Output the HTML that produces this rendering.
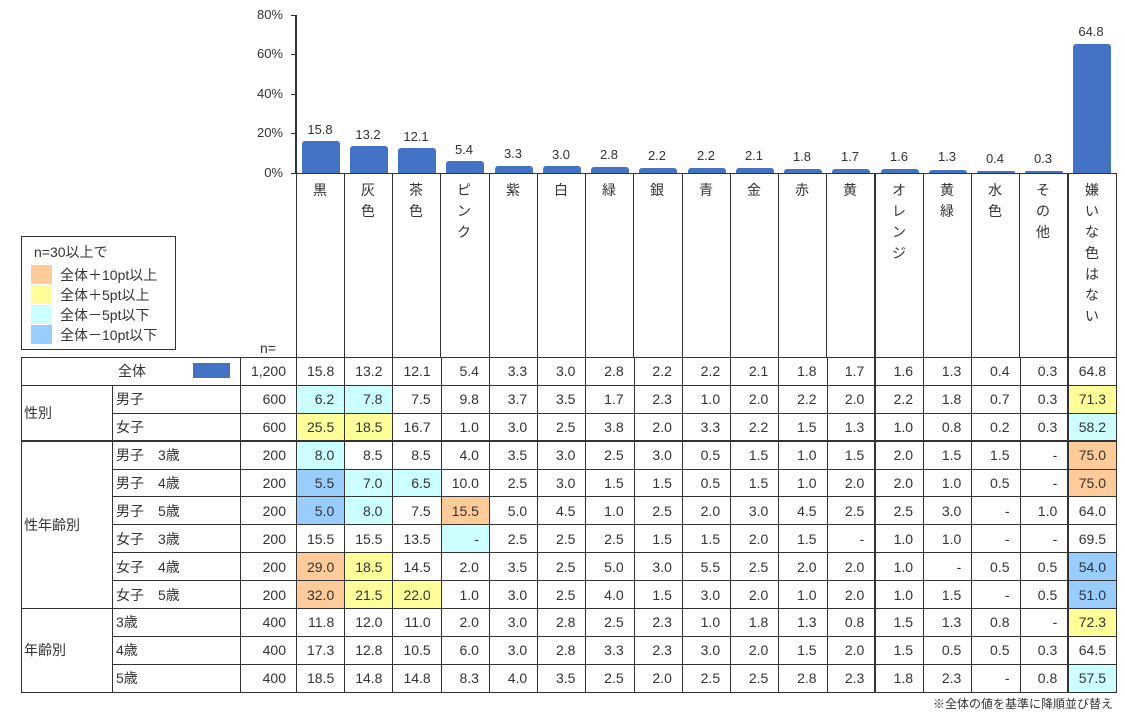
<!DOCTYPE html>
<html><head><meta charset="utf-8">
<style>
*{margin:0;padding:0;box-sizing:border-box}
body{width:1125px;height:718px;background:#fff;position:relative;overflow:hidden;font-family:"Liberation Sans","Noto Sans CJK JP",sans-serif;color:#333;font-size:13px}
.a{position:absolute}
.yl{position:absolute;right:842px;font-size:13px;text-align:right}
.bar{position:absolute;background:#4472C4;border-radius:3px 3px 0 0;width:38px}
.bv{position:absolute;width:48px;text-align:center;font-size:13px}
.vl{position:absolute;top:173px;height:184px;width:1px;background:#333}
.hl{position:absolute;width:48px;text-align:center;font-size:14px;line-height:21px;top:180px}
table{position:absolute;left:21px;top:357px;border-collapse:collapse;table-layout:fixed;width:1096px}
td{border:1px solid #333;height:27.9px;font-size:14px;text-align:right;padding-right:10px;white-space:nowrap}
td.g{text-align:left;padding-left:2px}
td.l{text-align:left;padding-left:3px}
tr.d td.c{border-bottom:1px dashed #999}
tr.t td{border-bottom:2px solid #333}
td.tk{border-left:2px solid #333}
.o{background:#FFCC99}.y{background:#FFFF99}.c1{background:#CCFFFF}.b{background:#99CCFF}
.lg{position:absolute;left:60px;font-size:14px}
</style></head><body>
<div class="a" style="left:295px;top:15px;width:2px;height:159px;background:#333"></div>
<div class="a" style="left:291px;top:15px;width:5px;height:1px;background:#333"></div>
<div class="a" style="left:291px;top:54px;width:5px;height:1px;background:#333"></div>
<div class="a" style="left:291px;top:94px;width:5px;height:1px;background:#333"></div>
<div class="a" style="left:291px;top:133px;width:5px;height:1px;background:#333"></div>
<div class="a" style="left:291px;top:173px;width:826px;height:1px;background:#333"></div>
<div class="yl" style="top:7px">80%</div>
<div class="yl" style="top:46px">60%</div>
<div class="yl" style="top:86px">40%</div>
<div class="yl" style="top:125px">20%</div>
<div class="yl" style="top:165px">0%</div>
<div class="bar" style="left:302px;top:141px;height:32px"></div><div class="bv" style="left:296px;top:122px">15.8</div>
<div class="bar" style="left:350px;top:146px;height:27px"></div><div class="bv" style="left:344px;top:127px">13.2</div>
<div class="bar" style="left:398px;top:148px;height:25px"></div><div class="bv" style="left:392px;top:129px">12.1</div>
<div class="bar" style="left:446px;top:161px;height:12px"></div><div class="bv" style="left:440px;top:142px">5.4</div>
<div class="bar" style="left:495px;top:166px;height:7px"></div><div class="bv" style="left:489px;top:146px">3.3</div>
<div class="bar" style="left:543px;top:166px;height:7px"></div><div class="bv" style="left:537px;top:147px">3.0</div>
<div class="bar" style="left:591px;top:167px;height:6px"></div><div class="bv" style="left:585px;top:147px">2.8</div>
<div class="bar" style="left:639px;top:168px;height:5px"></div><div class="bv" style="left:633px;top:148px">2.2</div>
<div class="bar" style="left:688px;top:168px;height:5px"></div><div class="bv" style="left:682px;top:148px">2.2</div>
<div class="bar" style="left:736px;top:168px;height:5px"></div><div class="bv" style="left:730px;top:148px">2.1</div>
<div class="bar" style="left:784px;top:169px;height:4px"></div><div class="bv" style="left:778px;top:149px">1.8</div>
<div class="bar" style="left:832px;top:169px;height:4px"></div><div class="bv" style="left:826px;top:149px">1.7</div>
<div class="bar" style="left:881px;top:169px;height:4px"></div><div class="bv" style="left:875px;top:149px">1.6</div>
<div class="bar" style="left:929px;top:170px;height:3px"></div><div class="bv" style="left:923px;top:149px">1.3</div>
<div class="bar" style="left:977px;top:171px;height:2px"></div><div class="bv" style="left:971px;top:151px">0.4</div>
<div class="bar" style="left:1025px;top:171px;height:2px"></div><div class="bv" style="left:1019px;top:151px">0.3</div>
<div class="bar" style="left:1073px;top:44px;height:129px"></div><div class="bv" style="left:1067px;top:24px">64.8</div>
<div class="vl" style="left:296px"></div><div class="vl" style="left:344px"></div><div class="vl" style="left:392px"></div><div class="vl" style="left:440px"></div><div class="vl" style="left:489px"></div><div class="vl" style="left:537px"></div><div class="vl" style="left:585px"></div><div class="vl" style="left:633px"></div><div class="vl" style="left:682px"></div><div class="vl" style="left:730px"></div><div class="vl" style="left:778px"></div><div class="vl" style="left:826px"></div><div class="vl" style="left:874px;width:2px"></div><div class="vl" style="left:923px"></div><div class="vl" style="left:971px"></div><div class="vl" style="left:1019px"></div><div class="vl" style="left:1067px;width:2px"></div><div class="vl" style="left:1116px"></div>
<div class="hl" style="left:296px">黒</div>
<div class="hl" style="left:344px">灰<br>色</div>
<div class="hl" style="left:392px">茶<br>色</div>
<div class="hl" style="left:440px">ピ<br>ン<br>ク</div>
<div class="hl" style="left:489px">紫</div>
<div class="hl" style="left:537px">白</div>
<div class="hl" style="left:585px">緑</div>
<div class="hl" style="left:633px">銀</div>
<div class="hl" style="left:682px">青</div>
<div class="hl" style="left:730px">金</div>
<div class="hl" style="left:778px">赤</div>
<div class="hl" style="left:826px">黄</div>
<div class="hl" style="left:875px">オ<br>レ<br>ン<br>ジ</div>
<div class="hl" style="left:923px">黄<br>緑</div>
<div class="hl" style="left:971px">水<br>色</div>
<div class="hl" style="left:1019px">そ<br>の<br>他</div>
<div class="hl" style="left:1068px">嫌<br>い<br>な<br>色<br>は<br>な<br>い</div>
<div class="a" style="left:21px;top:236px;width:155px;height:114px;border:1px solid #333"></div>
<div class="a" style="left:34px;top:242px;font-size:14px">n=30以上で</div>
<div class="a o" style="left:31px;top:265px;width:21px;height:19px"></div><div class="lg" style="top:265px">全体＋10pt以上</div>
<div class="a y" style="left:31px;top:285px;width:21px;height:19px"></div><div class="lg" style="top:285px">全体＋5pt以上</div>
<div class="a c1" style="left:31px;top:305px;width:21px;height:19px"></div><div class="lg" style="top:305px">全体－5pt以下</div>
<div class="a b" style="left:31px;top:325px;width:21px;height:19px"></div><div class="lg" style="top:325px">全体－10pt以下</div>
<div class="a" style="left:260px;top:340px;font-size:14px">n=</div>
<div class="a" style="left:193px;top:363px;width:37px;height:15px;background:#4472C4"></div>
<table>
<colgroup><col style="width:91px"><col style="width:128px"><col style="width:56px"><col span="17" style="width:48.24px"></colgroup>
<tr><td colspan="2" style="text-align:left;padding-left:96px">全体</td><td>1,200</td><td>15.8</td><td>13.2</td><td>12.1</td><td>5.4</td><td>3.3</td><td>3.0</td><td>2.8</td><td>2.2</td><td>2.2</td><td>2.1</td><td>1.8</td><td>1.7</td><td class="tk">1.6</td><td>1.3</td><td>0.4</td><td>0.3</td><td class="tk">64.8</td></tr>
<tr class="d"><td class="g" rowspan="2" style="border-bottom:2px solid #333">性別</td><td class="l c">男子</td><td class="c">600</td><td class="c c1">6.2</td><td class="c c1">7.8</td><td class="c">7.5</td><td class="c">9.8</td><td class="c">3.7</td><td class="c">3.5</td><td class="c">1.7</td><td class="c">2.3</td><td class="c">1.0</td><td class="c">2.0</td><td class="c">2.2</td><td class="c">2.0</td><td class="c tk">2.2</td><td class="c">1.8</td><td class="c">0.7</td><td class="c">0.3</td><td class="c tk y">71.3</td></tr>
<tr class="t"><td class="l">女子</td><td>600</td><td class="y">25.5</td><td class="y">18.5</td><td>16.7</td><td>1.0</td><td>3.0</td><td>2.5</td><td>3.8</td><td>2.0</td><td>3.3</td><td>2.2</td><td>1.5</td><td>1.3</td><td class="tk">1.0</td><td>0.8</td><td>0.2</td><td>0.3</td><td class="tk c1">58.2</td></tr>
<tr class="d"><td class="g" rowspan="6">性年齢別</td><td class="l c">男子　3歳</td><td class="c">200</td><td class="c c1">8.0</td><td class="c">8.5</td><td class="c">8.5</td><td class="c">4.0</td><td class="c">3.5</td><td class="c">3.0</td><td class="c">2.5</td><td class="c">3.0</td><td class="c">0.5</td><td class="c">1.5</td><td class="c">1.0</td><td class="c">1.5</td><td class="c tk">2.0</td><td class="c">1.5</td><td class="c">1.5</td><td class="c">-</td><td class="c tk o">75.0</td></tr>
<tr class="d"><td class="l c">男子　4歳</td><td class="c">200</td><td class="c b">5.5</td><td class="c c1">7.0</td><td class="c c1">6.5</td><td class="c">10.0</td><td class="c">2.5</td><td class="c">3.0</td><td class="c">1.5</td><td class="c">1.5</td><td class="c">0.5</td><td class="c">1.5</td><td class="c">1.0</td><td class="c">2.0</td><td class="c tk">2.0</td><td class="c">1.0</td><td class="c">0.5</td><td class="c">-</td><td class="c tk o">75.0</td></tr>
<tr class="d"><td class="l c">男子　5歳</td><td class="c">200</td><td class="c b">5.0</td><td class="c c1">8.0</td><td class="c">7.5</td><td class="c o">15.5</td><td class="c">5.0</td><td class="c">4.5</td><td class="c">1.0</td><td class="c">2.5</td><td class="c">2.0</td><td class="c">3.0</td><td class="c">4.5</td><td class="c">2.5</td><td class="c tk">2.5</td><td class="c">3.0</td><td class="c">-</td><td class="c">1.0</td><td class="c tk">64.0</td></tr>
<tr class="d"><td class="l c">女子　3歳</td><td class="c">200</td><td class="c">15.5</td><td class="c">15.5</td><td class="c">13.5</td><td class="c c1">-</td><td class="c">2.5</td><td class="c">2.5</td><td class="c">2.5</td><td class="c">1.5</td><td class="c">1.5</td><td class="c">2.0</td><td class="c">1.5</td><td class="c">-</td><td class="c tk">1.0</td><td class="c">1.0</td><td class="c">-</td><td class="c">-</td><td class="c tk">69.5</td></tr>
<tr class="d"><td class="l c">女子　4歳</td><td class="c">200</td><td class="c o">29.0</td><td class="c y">18.5</td><td class="c">14.5</td><td class="c">2.0</td><td class="c">3.5</td><td class="c">2.5</td><td class="c">5.0</td><td class="c">3.0</td><td class="c">5.5</td><td class="c">2.5</td><td class="c">2.0</td><td class="c">2.0</td><td class="c tk">1.0</td><td class="c">-</td><td class="c">0.5</td><td class="c">0.5</td><td class="c tk b">54.0</td></tr>
<tr><td class="l">女子　5歳</td><td>200</td><td class="o">32.0</td><td class="y">21.5</td><td class="y">22.0</td><td>1.0</td><td>3.0</td><td>2.5</td><td>4.0</td><td>1.5</td><td>3.0</td><td>2.0</td><td>1.0</td><td>2.0</td><td class="tk">1.0</td><td>1.5</td><td>-</td><td>0.5</td><td class="tk b">51.0</td></tr>
<tr class="d"><td class="g" rowspan="3">年齢別</td><td class="l c">3歳</td><td class="c">400</td><td class="c">11.8</td><td class="c">12.0</td><td class="c">11.0</td><td class="c">2.0</td><td class="c">3.0</td><td class="c">2.8</td><td class="c">2.5</td><td class="c">2.3</td><td class="c">1.0</td><td class="c">1.8</td><td class="c">1.3</td><td class="c">0.8</td><td class="c tk">1.5</td><td class="c">1.3</td><td class="c">0.8</td><td class="c">-</td><td class="c tk y">72.3</td></tr>
<tr class="d"><td class="l c">4歳</td><td class="c">400</td><td class="c">17.3</td><td class="c">12.8</td><td class="c">10.5</td><td class="c">6.0</td><td class="c">3.0</td><td class="c">2.8</td><td class="c">3.3</td><td class="c">2.3</td><td class="c">3.0</td><td class="c">2.0</td><td class="c">1.5</td><td class="c">2.0</td><td class="c tk">1.5</td><td class="c">0.5</td><td class="c">0.5</td><td class="c">0.3</td><td class="c tk">64.5</td></tr>
<tr><td class="l">5歳</td><td>400</td><td>18.5</td><td>14.8</td><td>14.8</td><td>8.3</td><td>4.0</td><td>3.5</td><td>2.5</td><td>2.0</td><td>2.5</td><td>2.5</td><td>2.8</td><td>2.3</td><td class="tk">1.8</td><td>2.3</td><td>-</td><td>0.8</td><td class="tk c1">57.5</td></tr>
</table>
<div class="a" style="right:12px;top:695px;font-size:12px">※全体の値を基準に降順並び替え</div>
</body></html>
